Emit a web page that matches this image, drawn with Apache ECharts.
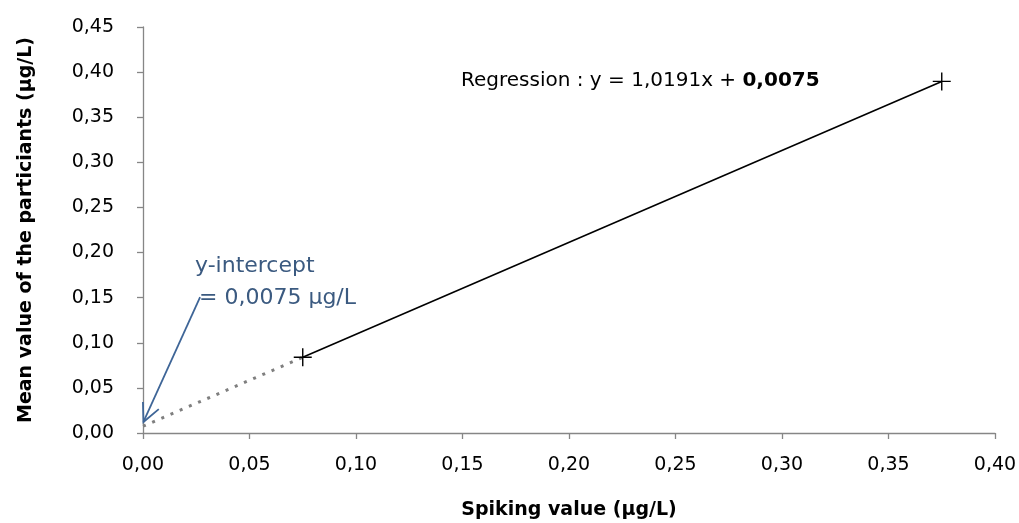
<!DOCTYPE html>
<html>
<head>
<meta charset="utf-8">
<script src="https://cdn.jsdelivr.net/npm/echarts@6/dist/echarts.min.js"></script>
<style>
  html, body { margin: 0; padding: 0; background: #fff; }
  #chart { width: 1019px; height: 523px; }
</style>
</head>
<body>
<div id="chart"></div>
<script>
// measured points (spiking value vs mean value of participants)
const spiking = [0.075, 0.375];
const meanValues = [0.0839, 0.3897];
// regression extended down to the y-intercept
const interceptX = [0, 0.075];
const interceptY = [0.0075, 0.0839];
// annotation arrow: from the label to the intercept
const arrowFrom = [0.0268, 0.1507];
const arrowTo = [0.0002, 0.0122];
const xTicks = ['0,00', '0,05', '0,10', '0,15', '0,20', '0,25', '0,30', '0,35', '0,40'];

const font = '"DejaVu Sans", "Open Sans", sans-serif';
const axisGrey = '#868686';
const plus = 'path://M0,8.3 L18,8.3 L18,9.7 L0,9.7 Z M8.3,0 L9.7,0 L9.7,18 L8.3,18 Z';

const fmt = v => v.toFixed(2).replace('.', ',');

const chart = echarts.init(document.getElementById('chart'));
chart.setOption({
  animation: false,
  grid: { left: 143, right: 24, top: 27, bottom: 90, outerBoundsMode: 'none', containLabel: false },
  xAxis: {
    type: 'value', min: 0, max: 0.4, interval: 0.05,
    name: 'Spiking value (µg/L)', nameLocation: 'middle', nameGap: 68,
    nameTextStyle: { fontFamily: font, fontSize: 19, fontWeight: 'bold', color: '#000' },
    axisLine: { lineStyle: { color: axisGrey, width: 1.3 } },
    axisTick: { show: true, length: 6, lineStyle: { color: axisGrey, width: 1.3 } },
    splitLine: { show: false },
    axisLabel: { margin: 23, fontFamily: font, fontSize: 19, color: '#000',
      formatter: (v) => xTicks[Math.round(v / 0.05)] }
  },
  yAxis: {
    type: 'value', min: 0, max: 0.45, interval: 0.05,
    name: 'Mean value of the particiants (µg/L)', nameLocation: 'middle', nameGap: 107,
    nameTextStyle: { fontFamily: font, fontSize: 19, fontWeight: 'bold', color: '#000' },
    axisLine: { show: true, lineStyle: { color: axisGrey, width: 1.3 } },
    axisTick: { show: true, length: 6, lineStyle: { color: axisGrey, width: 1.3 } },
    splitLine: { show: false },
    axisLabel: { margin: 29, fontFamily: font, fontSize: 19, color: '#000', formatter: fmt }
  },
  series: [
    {
      type: 'line',
      data: interceptX.map((x, i) => [x, interceptY[i]]),
      showSymbol: false,
      lineStyle: { color: '#7f7f7f', width: 3, type: [3, 7] },
      z: 2
    },
    {
      type: 'line',
      data: spiking.map((x, i) => [x, meanValues[i]]),
      symbol: plus, symbolSize: 18,
      itemStyle: { color: '#000' },
      lineStyle: { color: '#000', width: 1.6 },
      z: 3
    },
    {
      type: 'custom',
      data: [[arrowFrom[0], arrowFrom[1], arrowTo[0], arrowTo[1]]],
      renderItem: (params, api) => {
        const a = api.coord([api.value(0), api.value(1)]);
        const b = api.coord([api.value(2), api.value(3)]);
        const ang = Math.atan2(a[1] - b[1], a[0] - b[0]);
        const len = 20, spread = 0.45;
        const h1 = [b[0] + len * Math.cos(ang + spread), b[1] + len * Math.sin(ang + spread)];
        const h2 = [b[0] + len * Math.cos(ang - spread), b[1] + len * Math.sin(ang - spread)];
        const style = { stroke: '#3e6597', lineWidth: 1.8, fill: null };
        return {
          type: 'group',
          children: [
            { type: 'line', shape: { x1: a[0], y1: a[1], x2: b[0], y2: b[1] }, style },
            { type: 'polyline', shape: { points: [h1, b, h2] }, style }
          ]
        };
      },
      z: 4
    }
  ],
  graphic: [
    {
      type: 'text', left: 461, top: 71,
      style: {
        text: '{n|Regression : y = 1,0191x + }{b|0,0075}',
        rich: {
          n: { fontFamily: font, fontSize: 20, color: '#000' },
          b: { fontFamily: font, fontSize: 20, color: '#000', fontWeight: 'bold' }
        }
      }
    },
    {
      type: 'text', left: 195, top: 255,
      style: { text: 'y-intercept', fontFamily: font, fontSize: 22, fill: '#3b5a80' }
    },
    {
      type: 'text', left: 199, top: 287,
      style: { text: '= 0,0075 µg/L', fontFamily: font, fontSize: 22, fill: '#3b5a80' }
    }
  ]
});
</script>
</body>
</html>
